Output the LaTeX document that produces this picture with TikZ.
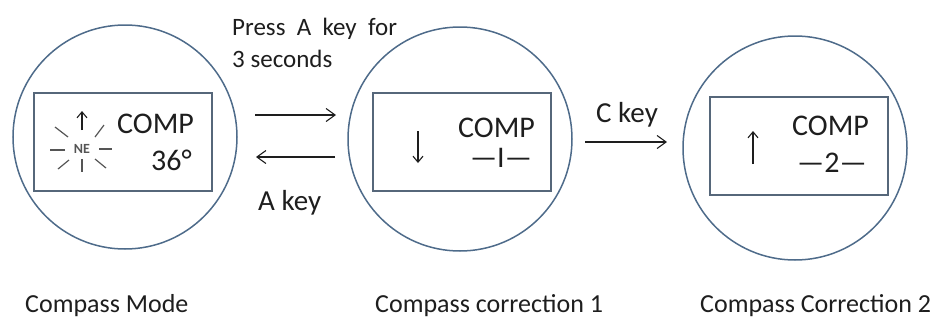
\documentclass[tikz,border=0pt]{standalone}
\usepackage{fontspec}
\setmainfont{Carlito}
\usetikzlibrary{arrows.meta}
\definecolor{ringc}{HTML}{4E6B8A}
\definecolor{framec}{HTML}{56677A}
\definecolor{inkc}{HTML}{1E1E1E}
\definecolor{rayc}{HTML}{555555}
\begin{document}
\begin{tikzpicture}[x=1pt,y=-1pt,
  ring/.style={circle,draw=ringc,line width=1.5pt,minimum size=224pt,inner sep=0pt},
  lcd/.style={draw=framec,line width=1.1pt,minimum width=178pt,minimum height=98pt,inner sep=0pt},
  flow/.style={draw=inkc,line width=1.1pt,-{Straight Barb[length=9pt,width=13pt,line width=1.1pt]}},
  small/.style={draw=inkc,line width=1.1pt,-{Straight Barb[length=6pt,width=10pt,line width=1.1pt]}},
  ray/.style={draw=rayc,line width=1.2pt},
  txt/.style={inner sep=0pt,text=inkc,font=\fontsize{26}{30}\selectfont},
  key/.style={inner sep=0pt,text=inkc,font=\fontsize{29}{32}\selectfont},
  big/.style={inner sep=0pt,text=inkc,font=\fontsize{30}{32}\selectfont},
  note/.style={inner sep=0pt,text=inkc,font=\fontsize{25}{30}\selectfont}]
\path[use as bounding box] (0,0) rectangle (938,322);

% circles
\node[ring] (c1) at (125,137) {};
\node[ring] (c2) at (460,139) {};
\node[ring] (c3) at (795,148) {};

% displays
\node[lcd] (r1) at (123,142) {};
\node[lcd] (r2) at (462,142) {};
\node[lcd] (r3) at (799,146) {};

% display 1
\node[big,anchor=base west] (comp1) at (117,133) {COMP};
\node[big,anchor=base west] (deg) at (151,170) {36°};
\node[inner sep=0pt,text=rayc,font=\fontsize{14}{14}\selectfont\bfseries] (ne) at (82,149) {NE};
\draw[small] (82,130) -- (82,111);
\draw[ray] (95,137) -- (104,125);
\draw[ray] (99,149) -- (112,149);
\draw[ray] (95,159) -- (106,168);
\draw[ray] (82,159) -- (82,172);
\draw[ray] (69,160) -- (58,169);
\draw[ray] (65,150) -- (50,150);
\draw[ray] (68,137) -- (55,127);

% display 2
\node[big,anchor=base west] (comp2) at (458,137) {COMP};
\node[big,anchor=base] (num1) at (501,167) {—I—};
\draw[small] (418,131) -- (418,163);

% display 3
\node[big,anchor=base west] (comp3) at (792,135) {COMP};
\node[big,anchor=base] (num2) at (832,172) {—2—};
\draw[small] (753,164) -- (753,131);

% connectors
\coordinate (a1s) at (255,115);
\coordinate (a1e) at (336,115);
\coordinate (a2s) at (335,157);
\coordinate (a2e) at (256,157);
\coordinate (a3s) at (585,142);
\coordinate (a3e) at (667,142);
\draw[flow] (a1s) -- (a1e);
\draw[flow] (a2s) -- (a2e);
\draw[flow] (a3s) -- (a3e);

% labels
\node[note,anchor=base west] (press) at (232,35) {Press~~A~~key~~for};
\node[note,anchor=base west] (secs) at (232,67) {3 seconds};
\node[key,anchor=base west] (akey) at (258,210) {A key};
\node[key,anchor=base west] (ckey) at (596,122) {C key};

\node[txt,anchor=base west] (m1) at (25,312) {Compass Mode};
\node[txt,anchor=base west] (m2) at (375,312) {Compass correction 1};
\node[txt,anchor=base west] (m3) at (700,312) {Compass Correction 2};
\end{tikzpicture}
\end{document}
